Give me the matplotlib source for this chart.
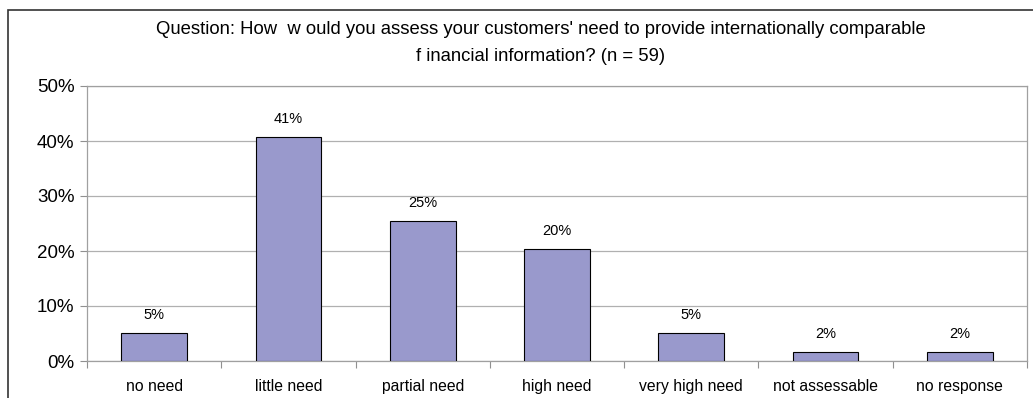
import matplotlib.pyplot as plt
from matplotlib.patches import Rectangle

plt.rcParams['font.family'] = ['Liberation Sans', 'DejaVu Sans']

categories = ['no need', 'little need', 'partial need', 'high need',
              'very high need', 'not assessable', 'no response']
counts = [3, 24, 15, 12, 3, 1, 1]
n_total = 59
shares = [100 * c / n_total for c in counts]
bar_labels = ['%d%%' % round(s) for s in shares]

title = ("Question: How  w ould you assess your customers' need to provide internationally comparable\n"
         "f inancial information? (n = 59)")

W, H = 1033, 398
fig = plt.figure(figsize=(W / 100, H / 100), dpi=100)
ax = fig.add_axes([87 / W, 1 - 361 / H, (1027 - 87) / W, (361 - 86) / H])

x = range(len(categories))
ax.bar(x, shares, width=0.49, color='#9999cc', edgecolor='black', linewidth=0.8, zorder=3)
for xi, s, lab in zip(x, shares, bar_labels):
    ax.text(xi, s + 3.3, lab, ha='center', va='center', fontsize=10.5)

ax.set_xlim(-0.5, len(categories) - 0.5)
ax.set_ylim(0, 50)
ax.set_yticks(range(0, 51, 10))
ax.set_yticklabels(['%d%%' % v for v in range(0, 51, 10)], fontsize=13.5)
ax.yaxis.grid(True, color='#b0b0b0', linewidth=0.9, zorder=0)
ax.tick_params(axis='y', length=5, color='#909090', pad=4)

# category ticks sit between the bars
ax.set_xticks([i - 0.5 for i in range(len(categories) + 1)])
ax.set_xticklabels([])
ax.set_xticks(list(x), minor=True)
ax.set_xticklabels(categories, minor=True, fontsize=11.3)
ax.tick_params(axis='x', which='major', length=5, color='#909090')
ax.tick_params(axis='x', which='minor', length=0, pad=13)

for side in ['top', 'right', 'left', 'bottom']:
    ax.spines[side].set_color('#a0a0a0')
    ax.spines[side].set_linewidth(0.9)

fig.text(541 / W, 1 - 43 / H, title, ha='center', va='center', fontsize=13.3, linespacing=1.75)

# outer chart frame (cut off at the right and bottom)
fig.patches.append(Rectangle((8 / W, -0.1), 1.2, 1 - 10 / H + 0.1, transform=fig.transFigure,
                             fill=False, edgecolor='#333333', linewidth=1.2))

fig.savefig('out.png', dpi=100)
